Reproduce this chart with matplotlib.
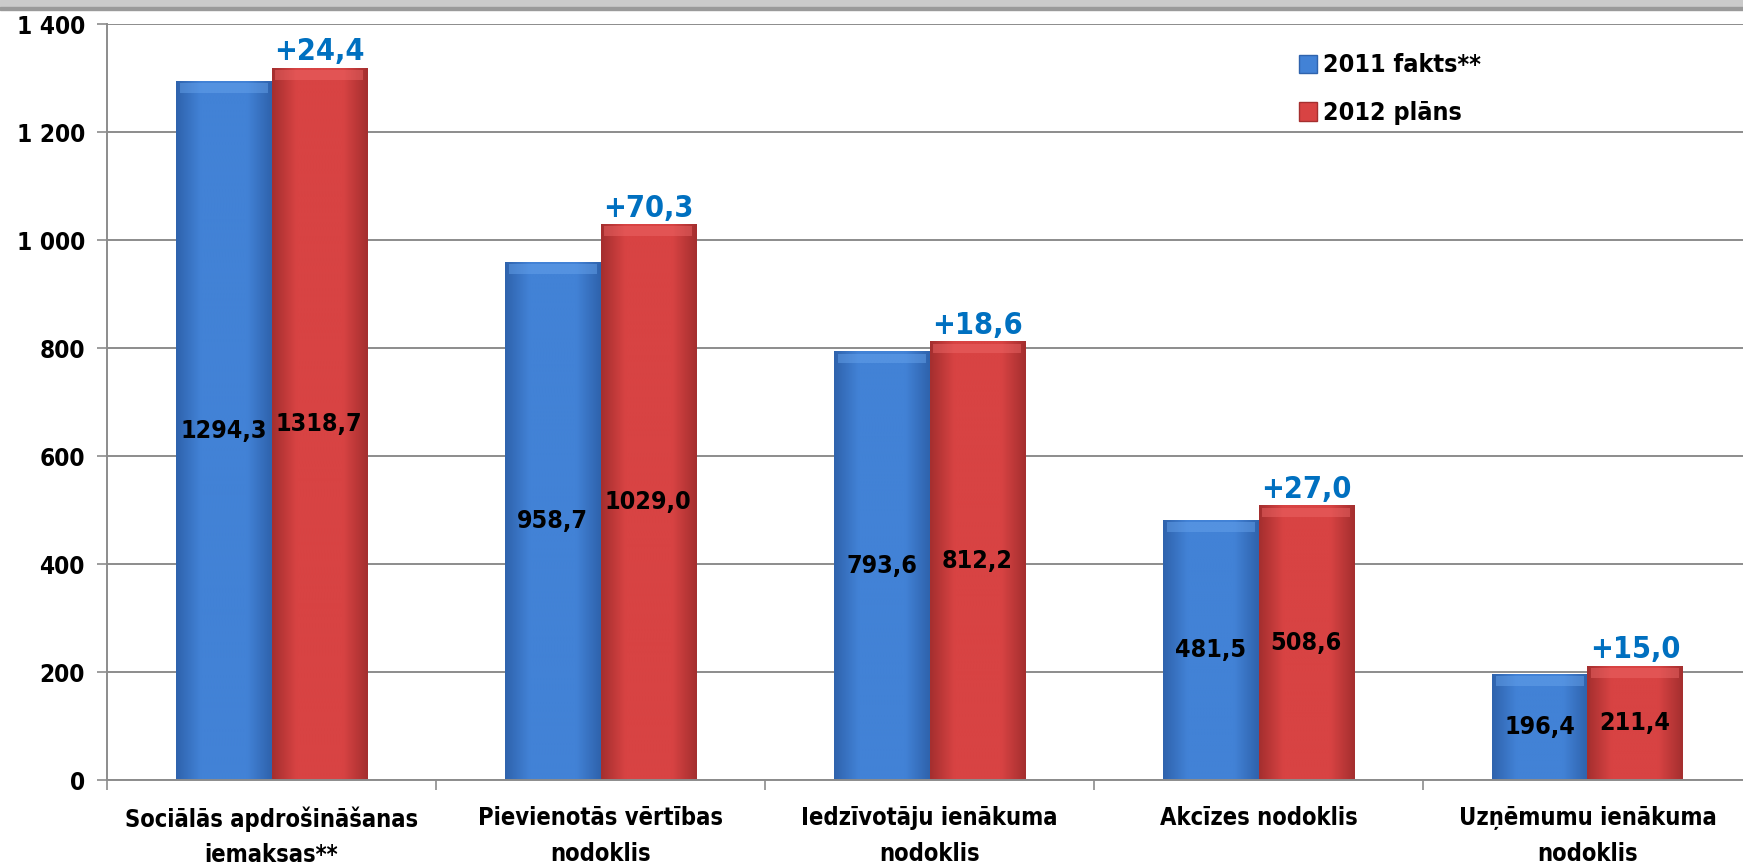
import numpy as np
import matplotlib
matplotlib.use("Agg")
import matplotlib.pyplot as plt
from matplotlib.patches import Rectangle
from matplotlib.colors import LinearSegmentedColormap

categories = ["Sociālās apdrošināšanas\niemaksas**", "Pievienotās vērtības\nnodoklis",
              "Iedzīvotāju ienākuma\nnodoklis", "Akcīzes nodoklis",
              "Uzņēmumu ienākuma\nnodoklis"]
fact_2011 = [1294.3, 958.7, 793.6, 481.5, 196.4]
plan_2012 = [1318.7, 1029.0, 812.2, 508.6, 211.4]
change = ["+24,4", "+70,3", "+18,6", "+27,0", "+15,0"]
series_names = ["2011 fakts**", "2012 plāns"]
yticks = [0, 200, 400, 600, 800, 1000, 1200, 1400]

BLUE, BLUE_DK, BLUE_LT = "#4282d6", "#2f63ad", "#6aa6ee"
RED, RED_DK, RED_LT = "#d84343", "#a52f2f", "#f06a6a"
plt.rcParams["font.family"] = ["DejaVu Sans"]
plt.rcParams["font.stretch"] = "condensed"
plt.rcParams["font.weight"] = "bold"

W, H = 1743, 868
fig = plt.figure(figsize=(W / 100, H / 100), dpi=100)
# grey strip at the top edge (cropped window frame)
fig.patches.append(Rectangle((0, 1 - 7 / H), 1, 7 / H, transform=fig.transFigure,
                             color="#cbcbcb", zorder=0))
fig.patches.append(Rectangle((0, 1 - 9.5 / H), 1, 2.5 / H, transform=fig.transFigure,
                             color="#9a9a9a", zorder=0))

ax = fig.add_axes([107 / W, 1 - 780 / H, (1752 - 107) / W, (780 - 24) / H])
x = np.arange(len(categories))
bw = 0.29


def shaded_bar(xc, h, base, dark, light):
    """Bar with darker sides and a lighter bevel at the top."""
    cmap = LinearSegmentedColormap.from_list("b", [dark, base, base, base, dark])
    grad = np.linspace(0, 1, 64)[None, :]
    r = Rectangle((xc - bw / 2, 0), bw, h, facecolor=base, edgecolor="none", zorder=2)
    ax.add_patch(r)
    im = ax.imshow(grad, extent=(xc - bw / 2, xc + bw / 2, 0, h), aspect="auto",
                   cmap=cmap, zorder=2.1, interpolation="bicubic")
    im.set_clip_path(r)
    ax.add_patch(Rectangle((xc - bw / 2 + 0.012, h - 22), bw - 0.024, 18,
                           facecolor=light, edgecolor="none", alpha=0.45, zorder=2.2))


for i in range(len(categories)):
    shaded_bar(x[i] - bw / 2, fact_2011[i], BLUE, BLUE_DK, BLUE_LT)
    shaded_bar(x[i] + bw / 2, plan_2012[i], RED, RED_DK, RED_LT)
    ax.text(x[i] - bw / 2, fact_2011[i] / 2, f"{fact_2011[i]:.1f}".replace(".", ","),
            ha="center", va="center", fontsize=18, zorder=3)
    ax.text(x[i] + bw / 2, plan_2012[i] / 2, f"{plan_2012[i]:.1f}".replace(".", ","),
            ha="center", va="center", fontsize=18, zorder=3)
    ax.text(x[i] + bw / 2, plan_2012[i] + 3, change[i], ha="center", va="bottom",
            fontsize=22, color="#0070c0", zorder=3)

ax.set_xlim(-0.5, len(categories) - 0.5)
ax.set_ylim(0, 1400)
ax.set_yticks(yticks)
ax.set_yticklabels([f"{v:,}".replace(",", " ") for v in yticks], fontsize=17.5)
ax.yaxis.grid(True, color="#8c8c8c", lw=1.4, zorder=1)
ax.set_axisbelow(True)
ax.tick_params(axis="y", length=7, width=1.2, color="#8c8c8c", pad=9)

ax.set_xticks(x)
ax.set_xticklabels(categories, fontsize=17, linespacing=1.6)
ax.set_xticks(np.arange(len(categories) + 1) - 0.5, minor=True)
ax.tick_params(axis="x", which="major", length=0, pad=19)
ax.tick_params(axis="x", which="minor", length=7, width=1.2, color="#8c8c8c")

for s in ["top", "right"]:
    ax.spines[s].set_visible(False)
for s in ["left", "bottom"]:
    ax.spines[s].set_color("#8c8c8c")
    ax.spines[s].set_linewidth(1.4)

handles = [Rectangle((0, 0), 1, 1, facecolor=BLUE, edgecolor=BLUE_DK),
           Rectangle((0, 0), 1, 1, facecolor=RED, edgecolor=RED_DK)]
fig.legend(handles, series_names, loc="upper left",
           bbox_to_anchor=(1276 / W, 1 - 31 / H), frameon=False,
           handlelength=0.75, handleheight=0.75, handletextpad=0.22,
           labelspacing=0.95, prop=dict(size=18, weight="bold", stretch="condensed"))

fig.savefig("out.png", dpi=100)
